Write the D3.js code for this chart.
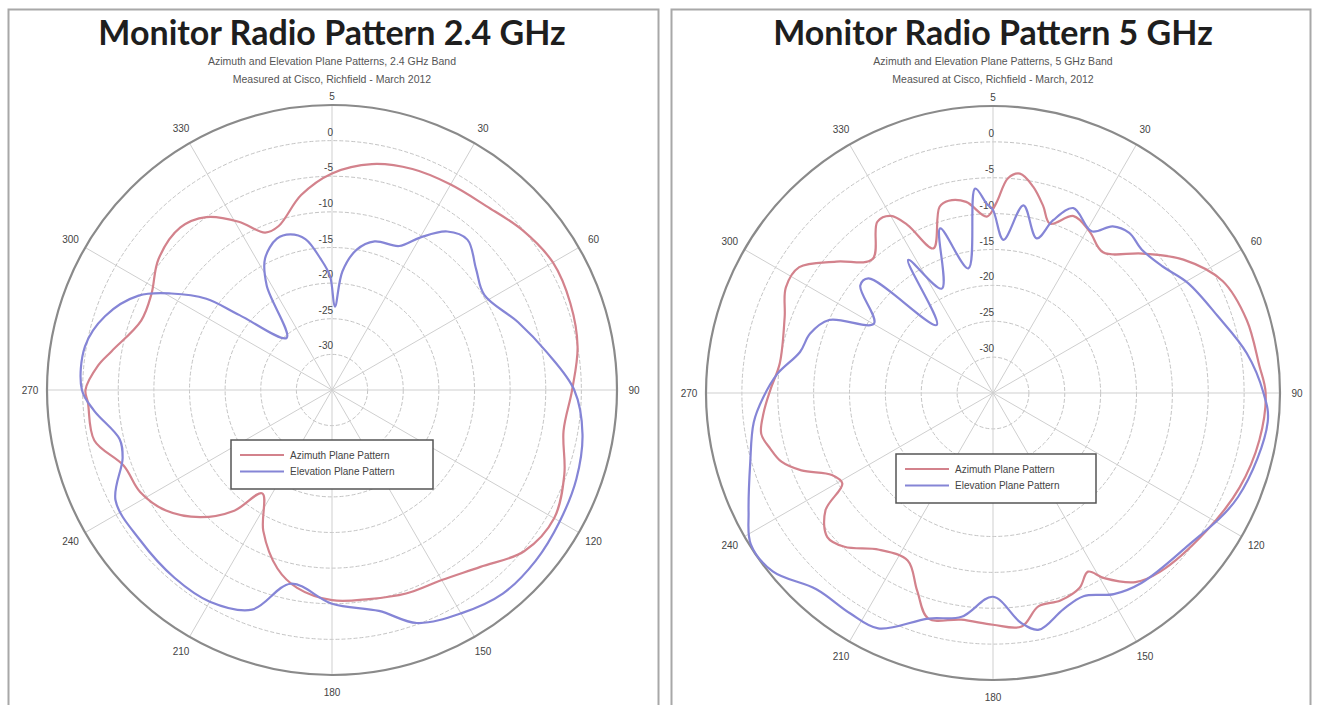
<!DOCTYPE html>
<html>
<head>
<meta charset="utf-8">
<script src="https://cdn.jsdelivr.net/npm/d3@7"></script>
<style>
html,body{margin:0;padding:0;background:#fff;}
svg{display:block;}
</style>
</head>
<body>
<svg id="chart" width="1318" height="705"></svg>
<script>
// ---------- DATA (angle in degrees, value in dB) ----------
const angleTicks = [30, 60, 90, 120, 150, 180, 210, 240, 270, 300, 330];
const dbTicks = [-30, -25, -20, -15, -10, -5, 0, 5];
const seriesNames = ["Azimuth Plane Pattern", "Elevation Plane Pattern"];

// 2.4 GHz – Azimuth
const az24Angles = [0,10,20,30,40,50,60,70,80,90,100,110,120,130,140,150,160,170,180,190,197,206,214,219,226,234,242,250,258,267,270,276,280,290,298,307,317,324,331,337,342,351];
const az24Db     = [-4.6,-2.8,-2.0,-1.7,-1.3,-0.1,0.8,0.6,0.0,-1.3,-2.0,-0.3,1.0,0.2,-2.6,-4.2,-4.6,-5.2,-5.5,-6.8,-8.8,-13,-17.5,-13.2,-9.3,-6.2,-4.5,-3.9,-0.9,-0.7,-0.4,-2.0,-3.6,-6.5,-6.3,-4.5,-3.8,-5.0,-8.0,-11.0,-10.8,-7.3];
// 2.4 GHz – Elevation
const el24Angles = [2,5,10,16,25,30,36,42,50,58,70,80,90,100,110,120,130,140,150,160,168,180,192,200,210,220,232,243,252,257,265,270,280,288,296,301,306,309,319,328,333,340,345,350,355,359];
const el24Db     = [-23.3,-18.3,-15,-13.3,-12.7,-10.3,-7.5,-6.6,-8.6,-9.8,-7.2,-4.4,-1.0,0.7,1.5,1.9,2.3,2.3,1.2,-0.2,-3.3,-5.0,-7.2,-2.2,-0.7,-0.6,-0.8,-0.9,-4.1,-4.4,-1.5,0.1,0.2,-1.5,-4.8,-8.7,-13.2,-18.3,-25.3,-17.7,-14.3,-12.4,-12.4,-13.5,-16.5,-19];

// 5 GHz – Azimuth
const az5Angles = [1,4,7,11,15,18.6,24.5,31,38,47,55,64,74,84,90,100,111,123,137,143,149,152,156,162,168,173,180,188,196,201,207,216,224,229,235,239,243,248,252,256,260,265,271,278,290,297,303,310,318,326,330,333,337.6,344,347,352,358];
const az5Db     = [-8.5,-5,-4.2,-5.7,-8,-10.1,-7.9,-8.8,-10.1,-6.5,-2.6,0.6,1.8,2.3,3.0,2.7,1.8,0.4,-0.9,-2.0,-4.9,-6.8,-5.3,-4.6,-4.6,-2.2,-2.7,-3.1,-2.3,-5.5,-8.8,-8.0,-5.2,-4.4,-6.5,-10.5,-9.8,-6.2,-4.0,-3.0,-2.2,-2.9,-4.0,-5.0,-4.1,-2.6,-2.8,-6.5,-9.9,-6.2,-6.5,-8.7,-13.2,-8.0,-7.5,-8.1,-10.4];
// 5 GHz – Elevation
const el5Angles = [0,3.9,9.2,15.8,19.2,23.5,31.4,35.7,40.4,46.1,53.3,60.6,71.1,81.1,90,96,113,129,142,149,156,162,169,173,180,188,196,206,213,222,231,238,244,254,263,269,275,282,288,294,300.2,309,312.6,320.4,327.5,333.9,342.2,348.8,355,358.1];
const el5Db     = [-9.5,-13.6,-8.5,-12.6,-9.5,-6.9,-8.6,-6.4,-5.7,-6.2,-5.5,-3.8,-1.9,0.8,2.7,3.5,2.1,-0.6,-1.4,-2.3,-4.0,-3.3,-1.4,-2.7,-6.6,-3.5,-2.3,1.5,1.6,1.8,4.5,4.8,2.9,0.2,-1.4,-3.0,-4.8,-7.5,-8.2,-10.0,-15.8,-11.2,-11.4,-22.7,-13,-18.8,-10.9,-17.3,-6.4,-8.6];

const titles = ["Monitor Radio Pattern 2.4 GHz", "Monitor Radio Pattern 5 GHz"];
const subtitles1 = ["Azimuth and Elevation Plane Patterns, 2.4 GHz Band", "Azimuth and Elevation Plane Patterns, 5 GHz Band"];
const subtitles2 = ["Measured at Cisco, Richfield - March 2012", "Measured at Cisco, Richfield - March, 2012"];

// ---------- DRAWING ----------
const svg = d3.select("#chart");
const colors = ["#d3828c", "#8585d6"];

function zip(a, v) { return a.map((d, i) => ({ a: d, v: v[i] })); }

const panels = [
  { x: 8.5, w: 650, cx: 332, cy: 390, R: 285, title: titles[0], s1: subtitles1[0], s2: subtitles2[0],
    series: [zip(az24Angles, az24Db), zip(el24Angles, el24Db)], legend: { x: 231, y: 440, w: 202, h: 49 } },
  { x: 671.5, w: 639, cx: 993, cy: 393, R: 287, title: titles[1], s1: subtitles1[1], s2: subtitles2[1],
    series: [zip(az5Angles, az5Db), zip(el5Angles, el5Db)], legend: { x: 896, y: 454, w: 200, h: 49 } }
];

panels.forEach(p => {
  // panel frame
  svg.append("rect").attr("x", p.x).attr("y", 9.5).attr("width", p.w).attr("height", 720)
    .attr("fill", "none").attr("stroke", "#a8a8a8").attr("stroke-width", 2);

  svg.append("text").attr("x", p.cx).attr("y", 45).attr("text-anchor", "middle")
    .attr("font-family", "Lato, 'Open Sans', sans-serif").attr("font-weight", 700)
    .attr("font-size", 34).attr("fill", "#1e1e1e").text(p.title);
  svg.append("text").attr("x", p.cx).attr("y", 65).attr("text-anchor", "middle")
    .attr("font-family", "'Liberation Sans', Arial, sans-serif").attr("font-size", 10.5)
    .attr("fill", "#555").text(p.s1);
  svg.append("text").attr("x", p.cx).attr("y", 83).attr("text-anchor", "middle")
    .attr("font-family", "'Liberation Sans', Arial, sans-serif").attr("font-size", 10.5)
    .attr("fill", "#555").text(p.s2);

  const g = svg.append("g").attr("transform", `translate(${p.cx},${p.cy})`);
  const r = d3.scaleLinear().domain([-35, 5]).range([0, p.R]);
  const toRad = d => d * Math.PI / 180;

  // rings
  g.selectAll("circle.ring").data(dbTicks.filter(d => d < 5)).join("circle")
    .attr("class", "ring").attr("r", d => r(d)).attr("fill", "none")
    .attr("stroke", "#c4c4c4").attr("stroke-width", 1).attr("stroke-dasharray", "4,2");
  // spokes every 30 degrees
  const spokes = d3.range(0, 360, 30);
  g.selectAll("line.spoke").data(spokes).join("line").attr("class", "spoke")
    .attr("x1", 0).attr("y1", 0)
    .attr("x2", d => r(5) * Math.sin(toRad(d))).attr("y2", d => -r(5) * Math.cos(toRad(d)))
    .attr("stroke", "#cfcfcf").attr("stroke-width", 1);
  // outer circle
  g.append("circle").attr("r", r(5)).attr("fill", "none").attr("stroke", "#8a8a8a").attr("stroke-width", 2.2);

  // angle labels
  g.selectAll("text.ang").data(angleTicks).join("text").attr("class", "ang")
    .attr("x", d => (r(5) + 17) * Math.sin(toRad(d)))
    .attr("y", d => -(r(5) + 17) * Math.cos(toRad(d)))
    .attr("text-anchor", "middle").attr("dominant-baseline", "central")
    .attr("font-family", "'Liberation Sans', Arial, sans-serif").attr("font-size", 10)
    .attr("fill", "#444").text(d => d);
  // dB labels
  g.selectAll("text.db").data(dbTicks).join("text").attr("class", "db")
    .attr("x", d => d === 5 ? 0 : 1)
    .attr("y", d => -r(d) - 5)
    .attr("text-anchor", d => d === 5 ? "middle" : "end")
    .attr("font-family", "'Liberation Sans', Arial, sans-serif").attr("font-size", 10)
    .attr("fill", "#444").text(d => d);

  // curves
  const line = d3.lineRadial().angle(d => toRad(d.a)).radius(d => r(d.v))
    .curve(d3.curveCatmullRomClosed.alpha(0.5));
  p.series.forEach((s, i) => {
    g.append("path").datum(s).attr("d", line).attr("fill", "none")
      .attr("stroke", colors[i]).attr("stroke-width", 2.2).attr("stroke-linejoin", "round");
  });

  // legend
  const L = p.legend;
  const lg = svg.append("g").attr("transform", `translate(${L.x},${L.y})`);
  lg.append("rect").attr("width", L.w).attr("height", L.h).attr("fill", "#fff")
    .attr("stroke", "#555").attr("stroke-width", 1.5);
  seriesNames.forEach((n, i) => {
    const yy = 15 + i * 16.5;
    lg.append("line").attr("x1", 9).attr("x2", 53).attr("y1", yy).attr("y2", yy)
      .attr("stroke", colors[i]).attr("stroke-width", 2.2);
    lg.append("text").attr("x", 59).attr("y", yy).attr("dominant-baseline", "central")
      .attr("font-family", "'Liberation Sans', Arial, sans-serif").attr("font-size", 10)
      .attr("fill", "#444").text(n);
  });
});
</script>
</body>
</html>
